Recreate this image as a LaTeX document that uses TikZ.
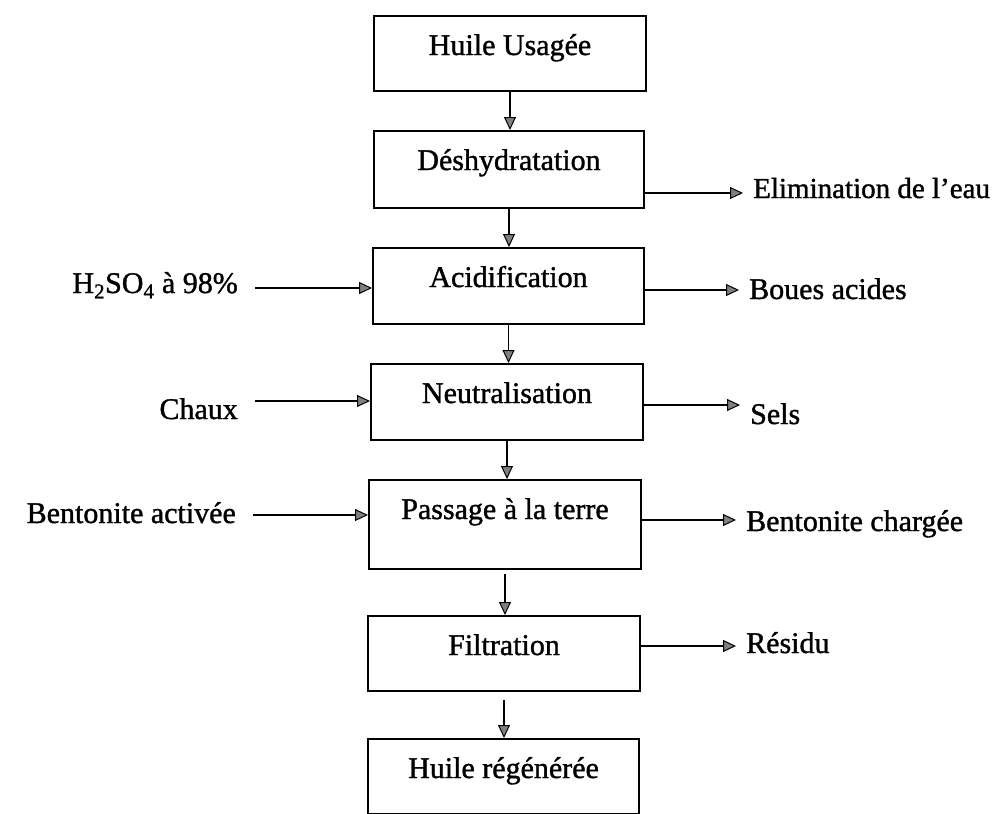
\documentclass[tikz,border=0pt]{standalone}
\usepackage{fontspec}
\setmainfont{Liberation Serif}[FakeBold=1.2]
\usetikzlibrary{arrows.meta}
\begin{document}
\begin{tikzpicture}[x=1pt,y=-1pt,
  every node/.style={font=\fontsize{30}{36}\selectfont},
  stepbox/.style 2 args={draw, line width=2pt, inner xsep=0pt, inner ysep=0pt,
    anchor=north west, minimum width=#1, text height=39pt, text depth=#2},
  outlbl/.style={anchor=base west, inner xsep=10pt, inner ysep=0pt},
  inlbl/.style={anchor=base east, inner xsep=17pt, inner ysep=0pt},
  flow/.style={line width=1.8pt,
    -{Triangle[length=13pt, width=12pt, fill=black!50, line width=1pt]}}]
\useasboundingbox[fill=white] (0,0) rectangle (994,814);

% process chain
\node[stepbox={272pt}{36pt}] (b1) at (373,15)  {Huile Usagée};
\node[stepbox={270pt}{38pt}] (b2) at (373,130) {Déshydratation};
\node[stepbox={271pt}{37pt}] (b3) at (372,247) {Acidification};
\node[stepbox={272pt}{37pt}] (b4) at (370,363) {Neutralisation};
\node[stepbox={272pt}{50pt}] (b5) at (368,479) {Passage à la terre};
\node[stepbox={272pt}{36pt}] (b6) at (367,615) {Filtration};
\node[stepbox={271pt}{36pt}] (b7) at (367,738) {Huile régénérée};

\draw[flow] (b1.south) -- (b1.south |- b2.north);
\draw[flow] (b2.south) -- (b2.south |- b3.north);
\draw[flow] (b3.south) -- (b3.south |- b4.north);
\draw[flow] (b4.south) -- (b4.south |- b5.north);
\draw[flow, shorten <=4pt] (b5.south) -- (b5.south |- b6.north);
\draw[flow, shorten <=8pt] (b6.south) -- (b6.south |- b7.north);

% inputs
\node[inlbl] (i3) at (255,293) {H\textsubscript{2}SO\textsubscript{4} à 98\%};
\node[inlbl] (i4) at (255,419) {Chaux};
\node[inlbl] (i5) at (253,523) {Bentonite activée};

\draw[flow] (i3.east |- 0,288) -- (b3.west |- 0,288);
\draw[flow] (i4.east |- 0,401) -- (b4.west |- 0,401);
\draw[flow] (i5.east |- 0,515) -- (b5.west |- 0,515);

% outputs
\node[outlbl, font=\fontsize{29}{35}\selectfont] (o2) at (743,198) {Elimination de l’eau};
\node[outlbl] (o3) at (739,299) {Boues acides};
\node[outlbl] (o4) at (740,424) {Sels};
\node[outlbl] (o5) at (736,531) {Bentonite chargée};
\node[outlbl] (o6) at (736,653) {Résidu};

\draw[flow] (b2.east |- 0,193) -- (o2.west |- 0,193);
\draw[flow] (b3.east |- 0,290) -- (o3.west |- 0,290);
\draw[flow] (b4.east |- 0,405) -- (o4.west |- 0,405);
\draw[flow] (b5.east |- 0,520) -- (o5.west |- 0,520);
\draw[flow] (b6.east |- 0,646) -- (o6.west |- 0,646);
\end{tikzpicture}
\end{document}
